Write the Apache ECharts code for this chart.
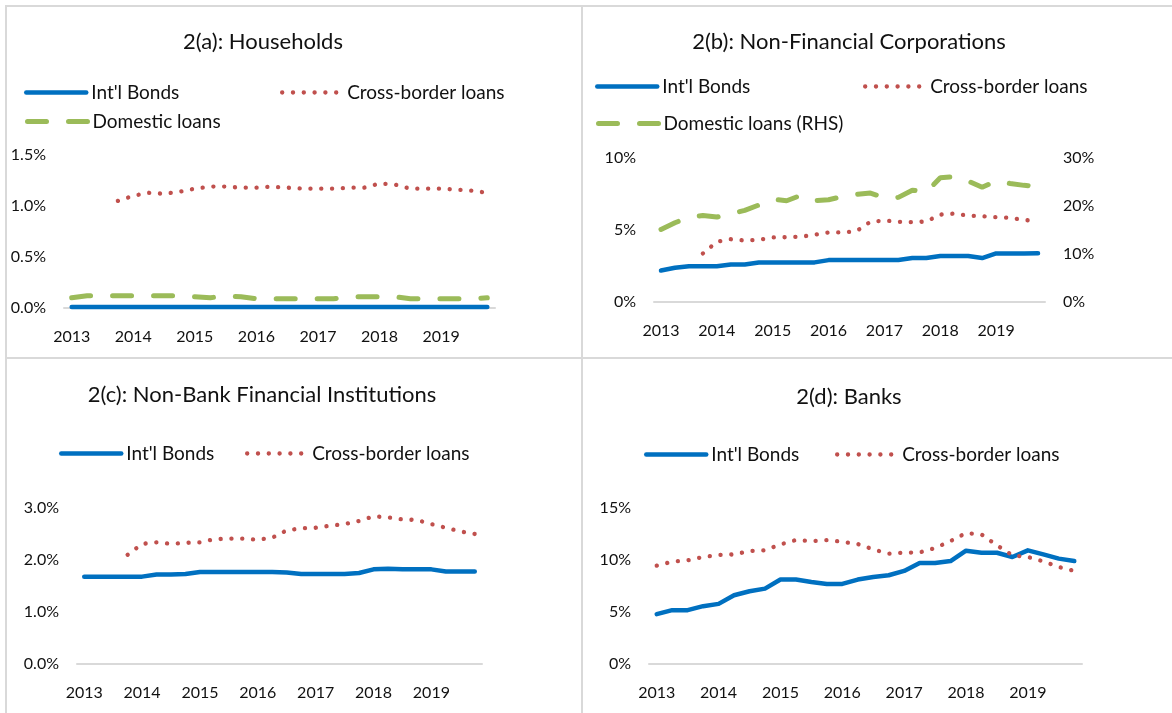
<!DOCTYPE html>
<html>
<head>
    <meta charset="utf-8">
    <title>Debt by sector</title>
    <script type="text/javascript" src="https://cdn.jsdelivr.net/npm/echarts@6/dist/echarts.min.js"></script>
    <style>
        html, body { margin: 0; padding: 0; background: #fff; }
    </style>
</head>
<body>

<div id="demo1" style="width: 1172px; height: 713px;"></div>

<script>
    // quarterly, 2013 Q1 - 2019 Q4
    var quarters = ['2013Q1', '2013Q2', '2013Q3', '2013Q4', '2014Q1', '2014Q2', '2014Q3', '2014Q4',
        '2015Q1', '2015Q2', '2015Q3', '2015Q4', '2016Q1', '2016Q2', '2016Q3', '2016Q4',
        '2017Q1', '2017Q2', '2017Q3', '2017Q4', '2018Q1', '2018Q2', '2018Q3', '2018Q4',
        '2019Q1', '2019Q2', '2019Q3', '2019Q4'];

    // 2(a) households
    var hhBonds = [0.01, 0.01, 0.01, 0.01, 0.01, 0.01, 0.01, 0.01, 0.01, 0.01, 0.01, 0.01, 0.01, 0.01,
        0.01, 0.01, 0.01, 0.01, 0.01, 0.01, 0.01, 0.01, 0.01, 0.01, 0.01, 0.01, 0.01, 0.01];
    var hhCross = [null, null, null, 1.05, 1.10, 1.13, 1.12, 1.14, 1.17, 1.19, 1.19, 1.18, 1.18, 1.19,
        1.18, 1.17, 1.17, 1.17, 1.18, 1.18, 1.22, 1.21, 1.17, 1.17, 1.17, 1.16, 1.15, 1.13];
    var hhDomestic = [0.10, 0.12, 0.12, 0.12, 0.12, 0.12, 0.12, 0.12, 0.11, 0.10, 0.12, 0.11, 0.09, 0.09,
        0.09, 0.09, 0.09, 0.09, 0.11, 0.11, 0.11, 0.11, 0.09, 0.09, 0.09, 0.09, 0.09, 0.10];

    // 2(b) non-financial corporations
    var nfcBonds = [2.19, 2.38, 2.49, 2.49, 2.49, 2.61, 2.61, 2.75, 2.75, 2.75, 2.75, 2.75, 2.91, 2.91,
        2.91, 2.91, 2.91, 2.91, 3.05, 3.05, 3.19, 3.19, 3.19, 3.05, 3.37, 3.37, 3.37, 3.39];
    var nfcCross = [null, null, null, 3.37, 4.18, 4.36, 4.27, 4.32, 4.48, 4.50, 4.53, 4.67, 4.83, 4.83,
        4.92, 5.57, 5.66, 5.57, 5.54, 5.59, 6.07, 6.14, 6.00, 5.96, 5.89, 5.84, 5.70, 5.61];
    var nfcDomestic = [15.1, 16.5, 17.7, 18.0, 17.7, 18.4, 19.1, 20.2, 21.4, 21.1, 22.2, 21.1, 21.3, 22.0,
        22.4, 22.7, 21.7, 21.8, 23.3, 22.9, 25.9, 26.1, 25.2, 23.9, 25.2, 24.7, 24.3, 24.1];

    // 2(c) non-bank financial institutions
    var nbfiBonds = [1.68, 1.68, 1.68, 1.68, 1.68, 1.72, 1.72, 1.73, 1.77, 1.77, 1.77, 1.77, 1.77, 1.77,
        1.76, 1.73, 1.73, 1.73, 1.73, 1.75, 1.82, 1.83, 1.82, 1.82, 1.82, 1.78, 1.78, 1.78];
    var nbfiCross = [null, null, null, 2.10, 2.31, 2.34, 2.31, 2.33, 2.34, 2.40, 2.41, 2.41, 2.39, 2.43,
        2.57, 2.61, 2.62, 2.66, 2.69, 2.75, 2.84, 2.82, 2.78, 2.77, 2.69, 2.62, 2.55, 2.50];

    // 2(d) banks
    var bankBonds = [4.79, 5.18, 5.18, 5.56, 5.78, 6.61, 7.00, 7.25, 8.12, 8.12, 7.89, 7.70, 7.70, 8.12,
        8.37, 8.53, 8.95, 9.71, 9.71, 9.90, 10.89, 10.70, 10.70, 10.29, 10.93, 10.54, 10.13, 9.90];
    var bankCross = [9.46, 9.84, 9.97, 10.29, 10.48, 10.54, 10.86, 10.93, 11.50, 11.92, 11.82, 11.92, 11.76, 11.53,
        11.02, 10.61, 10.70, 10.73, 11.15, 11.82, 12.59, 12.46, 11.41, 10.45, 10.29, 9.87, 9.33, 8.95];

    var FONT = 'Lato';
    var TXT = '#111';
    var GRAY = '#d9d9d9';

    var demo1 = echarts.init(document.getElementById("demo1"));

    function xAxis(gi) {
        return {
            type: 'category', gridIndex: gi, data: quarters, boundaryGap: true,
            axisLine: {lineStyle: {color: GRAY, width: 2}},
            axisTick: {show: false},
            axisLabel: {
                interval: 3, margin: 21, fontFamily: FONT, fontSize: 16, color: TXT,
                formatter: function (v) { return v.slice(0, 4); }
            }
        };
    }

    function yAxis(gi, max, step, digits, pos) {
        return {
            type: 'value', gridIndex: gi, min: 0, max: max, interval: step, position: pos || 'left',
            splitLine: {show: false}, axisLine: {show: false}, axisTick: {show: false},
            axisLabel: {
                margin: 18, fontFamily: FONT, fontSize: 16, color: TXT,
                formatter: function (v) { return v.toFixed(digits) + '%'; }
            }
        };
    }

    function bonds(data, i) {
        return {name: "Int'l Bonds", type: 'line', xAxisIndex: i, yAxisIndex: i, data: data, symbol: 'none',
            lineStyle: {color: '#0070C0', width: 4.5, cap: 'round', join: 'round'}, itemStyle: {color: '#0070C0'}};
    }

    function cross(data, i) {
        return {name: 'Cross-border loans', type: 'line', xAxisIndex: i, yAxisIndex: i, data: data, symbol: 'none',
            lineStyle: {color: '#C0504D', width: 4.3, type: [0.1, 10.7], cap: 'round'}, itemStyle: {color: '#C0504D'}};
    }

    function domestic(name, data, xi, yi) {
        return {name: name, type: 'line', xAxisIndex: xi, yAxisIndex: yi, data: data, symbol: 'none',
            lineStyle: {color: '#9BBB59', width: 5, type: [19, 22], cap: 'round'}, itemStyle: {color: '#9BBB59'}};
    }

    function legend(name, left, y, w) {
        return {
            data: [name], left: left, top: y - 10, padding: 0, itemWidth: 60, itemHeight: 14, itemGap: 0,
            selectedMode: false,
            itemStyle: {opacity: 0},
            lineStyle: {width: w, cap: 'round'},
            textStyle: {fontFamily: FONT, fontSize: 19, color: TXT}
        };
    }

    function title(text, cx, y) {
        return {text: text, left: cx, top: y - 12, textAlign: 'center', padding: 0,
            textStyle: {fontFamily: FONT, fontSize: 22, fontWeight: 'normal', color: TXT}};
    }

    function hline(x1, x2, y) {
        return {type: 'line', shape: {x1: x1, y1: y, x2: x2, y2: y}, style: {stroke: GRAY, lineWidth: 2}};
    }

    function vline(x, y1, y2) {
        return {type: 'line', shape: {x1: x, y1: y1, x2: x, y2: y2}, style: {stroke: GRAY, lineWidth: 2}};
    }

    var option = {
        animation: false,
        title: [
            title('2(a): Households', 263, 43),
            title('2(b): Non-Financial Corporations', 849, 43),
            title('2(c): Non-Bank Financial Institutions', 262, 396),
            title('2(d): Banks', 849, 398)
        ],
        legend: [
            legend("Int'l Bonds", 24, 93, 4.5),
            legend('Cross-border loans', 280, 93, 4.3),
            legend('Domestic loans', 25, 122, 5),
            legend("Int'l Bonds", 595, 87, 4.5),
            legend('Cross-border loans', 863, 87, 4.3),
            legend('Domestic loans (RHS)', 596, 124, 5),
            legend("Int'l Bonds", 59, 454, 4.5),
            legend('Cross-border loans', 245, 454, 4.3),
            legend("Int'l Bonds", 644, 455, 4.5),
            legend('Cross-border loans', 835, 455, 4.3)
        ],
        grid: [
            {left: 64, top: 155, width: 431, height: 153},
            {left: 654, top: 158, width: 391, height: 144},
            {left: 77, top: 508, width: 405, height: 156},
            {left: 649, top: 508, width: 433, height: 156}
        ],
        xAxis: [xAxis(0), xAxis(1), xAxis(2), xAxis(3)],
        yAxis: [
            yAxis(0, 1.5, 0.5, 1),
            yAxis(1, 10, 5, 0),
            yAxis(2, 3, 1, 1),
            yAxis(3, 15, 5, 0),
            yAxis(1, 30, 10, 0, 'right')
        ],
        series: [
            bonds(hhBonds, 0), cross(hhCross, 0), domestic('Domestic loans', hhDomestic, 0, 0),
            bonds(nfcBonds, 1), cross(nfcCross, 1), domestic('Domestic loans (RHS)', nfcDomestic, 1, 4),
            bonds(nbfiBonds, 2), cross(nbfiCross, 2),
            bonds(bankBonds, 3), cross(bankCross, 3)
        ],
        graphic: [
            hline(5, 1172, 6),
            hline(5, 1172, 358),
            vline(6, 5, 713),
            vline(582, 5, 713)
        ]
    };
    demo1.setOption(option);
</script>

</body>
</html>
